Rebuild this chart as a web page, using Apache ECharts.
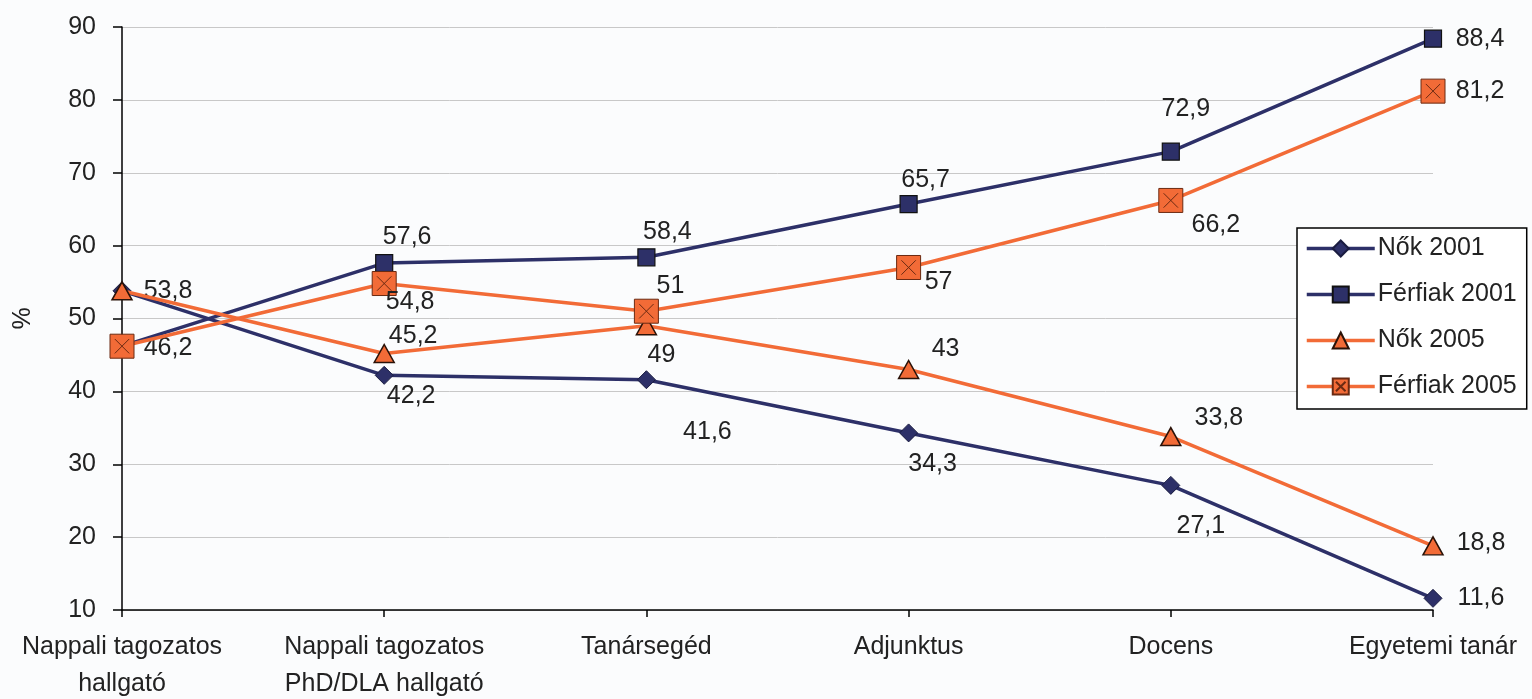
<!DOCTYPE html>
<html>
<head>
<meta charset="utf-8">
<script src="https://cdn.jsdelivr.net/npm/echarts@6/dist/echarts.min.js"></script>
<style>
html,body{margin:0;padding:0;background:#fbfcfd;}
#c{width:1532px;height:699px;}
</style>
</head>
<body>
<div id="c"></div>
<script>
const categories = ['Nappali tagozatos\nhallgató', 'Nappali tagozatos\nPhD/DLA hallgató', 'Tanársegéd', 'Adjunktus', 'Docens', 'Egyetemi tanár'];
const seriesNames = ['Nők 2001', 'Férfiak 2001', 'Nők 2005', 'Férfiak 2005'];
const nok2001 = [53.8, 42.2, 41.6, 34.3, 27.1, 11.6];
const ferfiak2001 = [46.2, 57.6, 58.4, 65.7, 72.9, 88.4];
const nok2005 = [53.8, 45.2, 49, 43, 33.8, 18.8];
const ferfiak2005 = [46.2, 54.8, 51, 57, 66.2, 81.2];
const yMin = 10, yMax = 90, yStep = 10;

// label placement (offset of label centre from the point), null = no label
const nok2001Off = [[46, 0], [27, 21], [61, 52], [24, 31], [30, 41], [48, 0]];
const ferfiak2001Off = [[46, 2], [23, -26], [21, -25], [17, -24], [15, -43], [47, 0]];
const nok2005Off = [null, [29, -17], [15, 29], [37, -20], [48, -18], [48, -3]];
const ferfiak2005Off = [null, [26, 19], [24, -25], [30, 15], [45, 25], [47, 0]];

const NAVY = '#2d3068';
const ORANGE = '#f26b37';
const FONT = '"Liberation Sans", Arial, sans-serif';
const FS = 25;
const fmt = v => String(v).replace('.', ',');

function build(values, offs) {
  return values.map((v, i) => {
    const o = offs[i];
    if (!o) return { value: v, label: { show: false } };
    return { value: v, label: { show: true, position: 'inside', offset: o } };
  });
}

const labelBase = {
  show: true,
  color: '#222',
  fontSize: FS,
  fontFamily: FONT,
  formatter: p => fmt(p.value)
};

const chart = echarts.init(document.getElementById('c'));
chart.setOption({
  backgroundColor: '#fbfcfd',
  animation: false,
  grid: { left: 122, right: 99, top: 27, bottom: 89, containLabel: false, outerBoundsMode: 'none' },
  legend: {
    orient: 'vertical',
    left: 1297,
    top: 228,
    padding: [8, 10, 10, 8],
    itemWidth: 68,
    itemHeight: 20,
    itemGap: 21,
    borderColor: '#000',
    borderWidth: 1.5,
    backgroundColor: '#fff',
    lineStyle: { width: 3.5 },
    textStyle: { fontSize: FS, fontFamily: FONT, color: '#222', padding: [0, 0, 0, -2] },
    data: seriesNames
  },
  xAxis: {
    type: 'category',
    data: categories,
    boundaryGap: false,
    axisLine: { lineStyle: { color: '#000', width: 1.5 } },
    axisTick: { show: true, length: 7, lineStyle: { color: '#000', width: 1.5 } },
    axisLabel: { fontSize: FS, fontFamily: FONT, color: '#222', lineHeight: 37, margin: 19, interval: 0 },
    splitLine: { show: false }
  },
  yAxis: {
    type: 'value',
    min: yMin,
    max: yMax,
    interval: yStep,
    name: '%',
    nameLocation: 'middle',
    nameRotate: 90,
    nameGap: 86,
    nameTextStyle: { fontSize: FS, fontFamily: FONT, color: '#222' },
    axisLine: { show: true, lineStyle: { color: '#000', width: 1.5 } },
    axisTick: { show: true, length: 9, lineStyle: { color: '#000', width: 1.5 } },
    axisLabel: { fontSize: FS, fontFamily: FONT, color: '#222', margin: 26 },
    splitLine: { show: true, lineStyle: { color: '#c8c8c8', width: 1 } }
  },
  series: [
    {
      name: seriesNames[0], type: 'line', data: build(nok2001, nok2001Off),
      symbol: 'diamond', symbolSize: 18,
      lineStyle: { color: NAVY, width: 3.5 },
      itemStyle: { color: NAVY, borderColor: '#1a1c40', borderWidth: 1 },
      label: labelBase, z: 2
    },
    {
      name: seriesNames[1], type: 'line', data: build(ferfiak2001, ferfiak2001Off),
      symbol: 'rect', symbolSize: 17,
      lineStyle: { color: NAVY, width: 3.5 },
      itemStyle: { color: NAVY, borderColor: '#111', borderWidth: 1.2 },
      label: labelBase, z: 2
    },
    {
      name: seriesNames[2], type: 'line', data: build(nok2005, nok2005Off),
      symbol: 'triangle', symbolSize: [20, 18],
      lineStyle: { color: ORANGE, width: 3.5 },
      itemStyle: { color: ORANGE, borderColor: '#2a1208', borderWidth: 1.5 },
      label: labelBase, z: 3
    },
    {
      name: seriesNames[3], type: 'line', data: build(ferfiak2005, ferfiak2005Off),
      symbol: 'path://M0,0H20V20H0Z M4,4L16,16 M16,4L4,16', symbolSize: 24,
      lineStyle: { color: ORANGE, width: 3.5 },
      itemStyle: { color: ORANGE, borderColor: '#6b2a12', borderWidth: 1 },
      label: labelBase, z: 3
    }
  ]
});
</script>
</body>
</html>
